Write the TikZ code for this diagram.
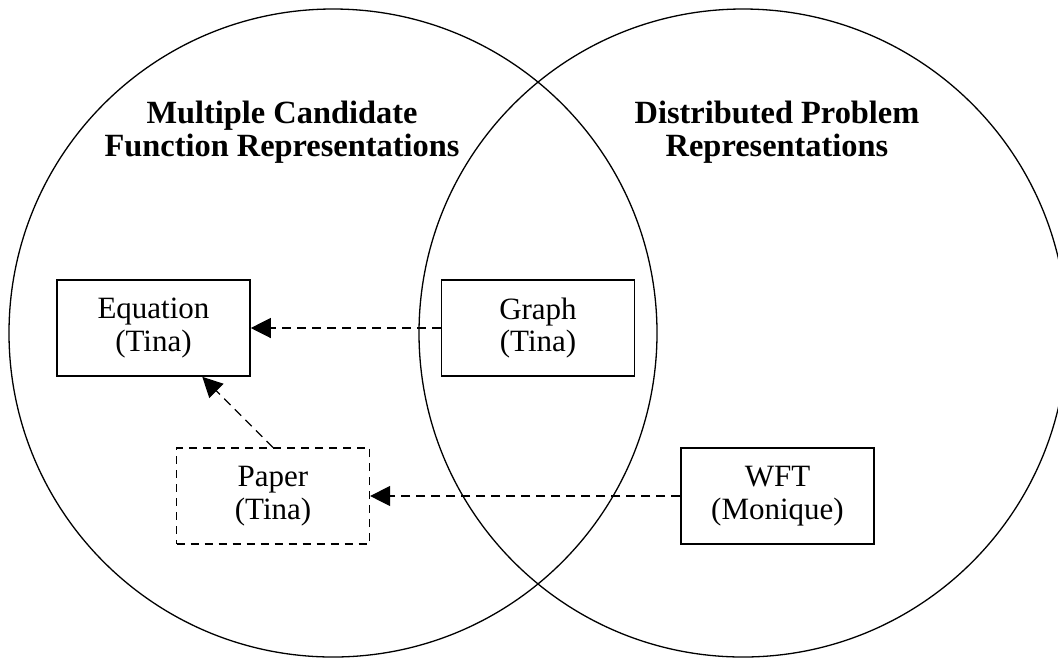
\documentclass[tikz,border=0pt]{standalone}
\usepackage{fontspec}
\setmainfont{Liberation Serif}
\usetikzlibrary{arrows.meta}

\begin{document}
\begin{tikzpicture}[x=0.5pt,y=-0.5pt,
  rep/.style={shape=rectangle,draw=black,line width=0.8pt,minimum width=96.5pt,minimum height=48pt,align=center,font=\fontsize{15.5}{16.3}\selectfont},
  heading/.style={align=center,font=\bfseries\fontsize{16.2}{16.6}\selectfont},
  link/.style={line width=0.6pt,dash pattern=on 4.5pt off 3pt,-{Triangle[length=10pt,width=10pt]}}]
\clip (0,0) rectangle (1058,660);
\node[shape=circle,draw=black,line width=0.65pt,minimum size=324pt] (L) at (333,333) {};
\node[shape=circle,draw=black,line width=0.65pt,minimum size=324pt] (R) at (743,333) {};
\node[heading] (LT) at (282,132) {Multiple Candidate\\Function Representations};
\node[heading] (RT) at (777,132) {Distributed Problem\\Representations};
\node[rep] (E) at (153.5,328) {Equation\\(Tina)};
\node[rep] (G) at (538,328) {Graph\\(Tina)};
\node[rep,dash pattern=on 4pt off 3pt,line width=0.6pt] (P) at (273,496) {Paper\\(Tina)};
\node[rep] (W) at (777.5,496) {WFT\\(Monique)};
\path [link] (G) edge (E);
\path [link] (W) edge (P);
\path [link] (P.north) edge (E.-45);
\end{tikzpicture}
\end{document}
